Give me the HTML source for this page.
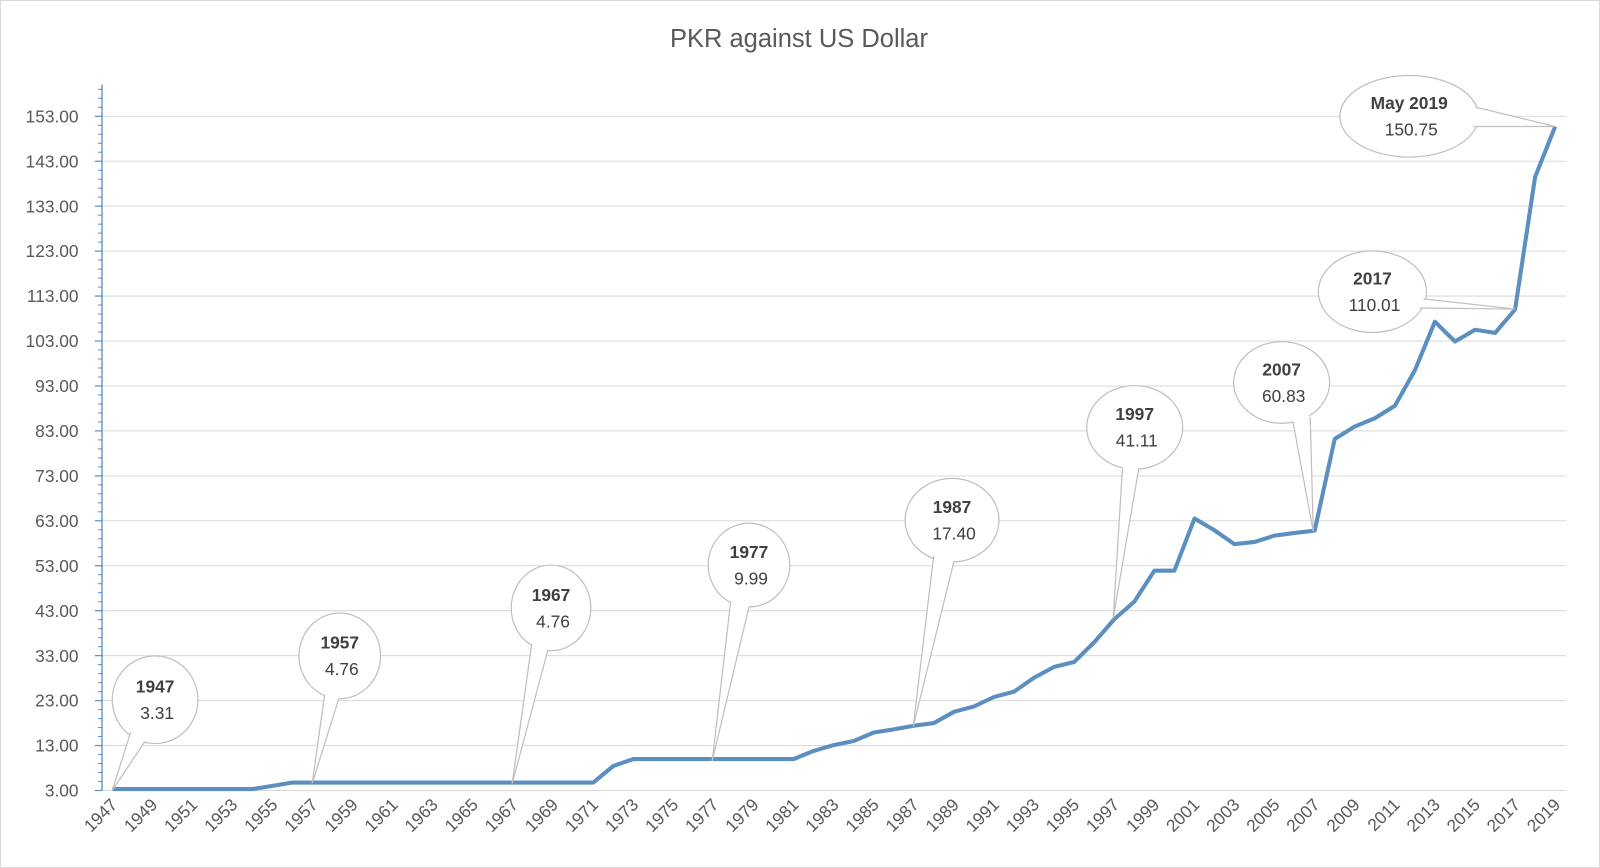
<!DOCTYPE html>
<html><head><meta charset="utf-8"><style>
html,body{margin:0;padding:0;background:#fff;}
svg{display:block;}
text{font-family:"Liberation Sans",sans-serif;}
</style></head><body>
<svg id="c" width="1600" height="868" viewBox="0 0 1568 851" preserveAspectRatio="none" xmlns="http://www.w3.org/2000/svg">
<rect x="0.5" y="0.5" width="1567" height="850" fill="#fff" stroke="#d9d9d9"/>
<text x="783" y="46" text-anchor="middle" font-size="25" fill="#595959">PKR against US Dollar</text>
<g id="grid"></g>
<g id="axis"></g>
<g id="series"></g>
<g id="callouts"></g>
</svg>
<script>
const NS="http://www.w3.org/2000/svg";
function el(p,t,a,txt){const e=document.createElementNS(NS,t);for(const k in a)e.setAttribute(k,a[k]);if(txt!==undefined)e.textContent=txt;p.appendChild(e);return e;}
const Y=v=>775-(v-3)*4.4067, X=i=>110+i*19.64;
const g=document.getElementById('grid'),ax=document.getElementById('axis');
for(let v=3;v<=153;v+=10){
  const y=Y(v);
  el(g,'line',{x1:100,x2:1535,y1:y,y2:y,stroke:'#d9d9d9','stroke-width':1});
  el(ax,'line',{x1:93,x2:100,y1:y,y2:y,stroke:'#5b8fc0','stroke-width':1.2});
  el(ax,'text',{x:77,y:y+6,'text-anchor':'end','font-size':17,fill:'#595959'},v.toFixed(2));
}
for(let v=5;v<=163;v+=2){ if((v-3)%10==0)continue; const y=Y(v); if(y<83)break;
  el(ax,'line',{x1:96,x2:100,y1:y,y2:y,stroke:'#5b8fc0','stroke-width':1});}
el(ax,'line',{x1:100,x2:100,y1:83,y2:775,stroke:'#5b8fc0','stroke-width':1.3});
for(let yr=1947;yr<=2019;yr+=2){
  const x=X(yr-1947);
  el(ax,'text',{x:x+6,y:790,'text-anchor':'end','font-size':17,fill:'#595959',transform:`rotate(-45 ${x+6} 790)`},yr);
}
const d=[3.31,3.31,3.31,3.31,3.31,3.31,3.31,3.31,4.03];
for(let i=0;i<16;i++)d.push(4.76);
d.push(8.45);
for(let i=0;i<9;i++)d.push(9.99);
d.push(11.8,13.1,14.0,15.9,16.6,17.4,18.0,20.5,21.7,23.8,25.0,28.1,30.5,31.6,36.0,41.11,45.0,51.9,51.9,63.5,60.9,57.8,58.3,59.7,60.3,60.83,81.2,84.0,85.8,88.6,96.5,107.3,102.9,105.5,104.8,110.01,139.5,150.75);
el(document.getElementById('series'),'polyline',{points:d.map((v,i)=>X(i).toFixed(1)+','+Y(v).toFixed(1)).join(' '),fill:'none',stroke:'#5b8fc0','stroke-width':4,'stroke-linejoin':'round'});
const co=document.getElementById('callouts');
const C=[
 ['1947','3.31',152,686,42,43,[128,718],[142,727],[110,775]],
 ['1957','4.76',333,643,40,42,[318,682],[332,685],[306,768]],
 ['1967','4.76',540,596,39,42,[521,632],[537,637],[502,768]],
 ['1977','9.99',734,554,40,41,[716,590],[734,595],[698,746]],
 ['1987','17.40',933,510,46,41,[915,545],[935,550],[895,712]],
 ['1997','41.11',1112,419,47,41,[1100,459],[1116,459],[1091,606]],
 ['2007','60.83',1256,375,47,40,[1267,413],[1284,409],[1287,521]],
 ['2017','110.01',1345,286,53,40,[1395,293],[1391,302],[1485,303]],
 ['May 2019','150.75',1381,114,68,40,[1446,105],[1444,124],[1524,124]]
];
for(const [a,b,cx,cy,rx,ry,p1,p2,t] of C){
  el(co,'ellipse',{cx,cy,rx,ry,fill:'#fff',stroke:'#bfbfbf','stroke-width':1.2});
  // fill triangle slightly extended into ellipse to hide arc
  const ix=(cx-(p1[0]+p2[0])/2)*0.05, iy=(cy-(p1[1]+p2[1])/2)*0.05;
  el(co,'polygon',{points:`${p1[0]+ix},${p1[1]+iy} ${t} ${p2[0]+ix},${p2[1]+iy}`,fill:'#fff',stroke:'none'});
  el(co,'line',{x1:p1[0],y1:p1[1],x2:t[0],y2:t[1],stroke:'#bfbfbf','stroke-width':1.2});
  el(co,'line',{x1:p2[0],y1:p2[1],x2:t[0],y2:t[1],stroke:'#bfbfbf','stroke-width':1.2});
  el(co,'text',{x:cx,y:cy-7,'text-anchor':'middle','font-size':17,'font-weight':'bold',fill:'#404040'},a);
  el(co,'text',{x:cx+2,y:cy+19,'text-anchor':'middle','font-size':17,fill:'#404040'},b);
}
</script>
</body></html>
